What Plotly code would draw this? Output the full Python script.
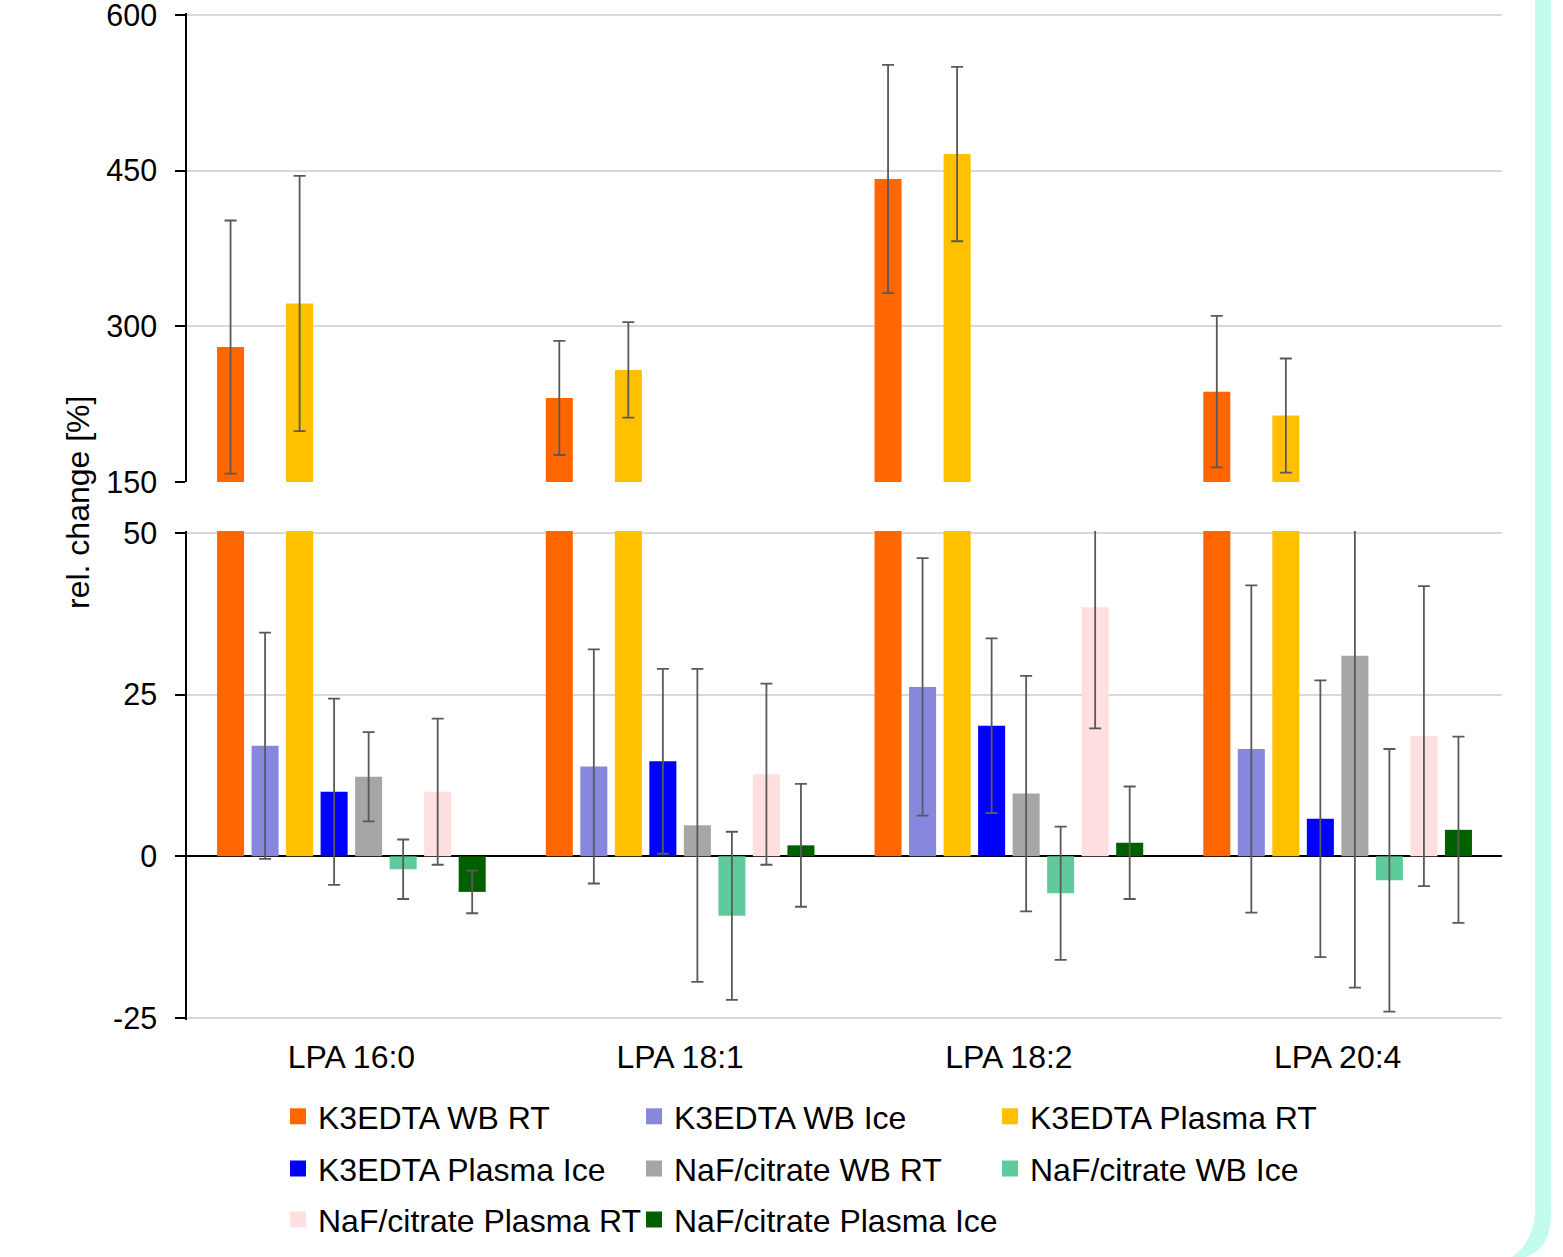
import plotly.graph_objects as go

# Lipid species on the category axis
categories = ["LPA 16:0", "LPA 18:1", "LPA 18:2", "LPA 20:4"]

# Storage conditions (series) and their mean relative change [%]
series_names = [
    "K3EDTA WB RT",
    "K3EDTA WB Ice",
    "K3EDTA Plasma RT",
    "K3EDTA Plasma Ice",
    "NaF/citrate WB RT",
    "NaF/citrate WB Ice",
    "NaF/citrate Plasma RT",
    "NaF/citrate Plasma Ice",
]

k3edta_wb_rt = [280, 231, 442, 237]
k3edta_wb_ice = [17.1, 13.9, 26.2, 16.6]
k3edta_plasma_rt = [322, 258, 466, 214]
k3edta_plasma_ice = [10.0, 14.7, 20.2, 5.8]
naf_wb_rt = [12.3, 4.8, 9.7, 31.0]
naf_wb_ice = [-2.0, -9.2, -5.7, -3.7]
naf_plasma_rt = [10.0, 12.7, 38.5, 18.6]
naf_plasma_ice = [-5.5, 1.7, 2.1, 4.1]

# Standard deviations (symmetric error bars)
k3edta_wb_rt_sd = [122, 55, 110, 73]
k3edta_wb_ice_sd = [17.5, 18.1, 19.9, 25.3]
k3edta_plasma_rt_sd = [123, 46, 84, 55]
k3edta_plasma_ice_sd = [14.4, 14.3, 13.5, 21.4]
naf_wb_rt_sd = [6.9, 24.2, 18.2, 51.3]
naf_wb_ice_sd = [4.6, 13.0, 10.3, 20.3]
naf_plasma_rt_sd = [11.3, 14.0, 18.7, 23.2]
naf_plasma_ice_sd = [3.3, 9.5, 8.7, 14.4]

# Axis ticks for the two halves of the broken axis
upper_ticks = [150, 300, 450, 600]
lower_ticks = [-25, 0, 25, 50]

values = [k3edta_wb_rt, k3edta_wb_ice, k3edta_plasma_rt, k3edta_plasma_ice,
          naf_wb_rt, naf_wb_ice, naf_plasma_rt, naf_plasma_ice]
errors = [k3edta_wb_rt_sd, k3edta_wb_ice_sd, k3edta_plasma_rt_sd, k3edta_plasma_ice_sd,
          naf_wb_rt_sd, naf_wb_ice_sd, naf_plasma_rt_sd, naf_plasma_ice_sd]
colors = ["#FF6600", "#8787DE", "#FFC000", "#0000FF",
          "#A6A6A6", "#5FCB9D", "#FFDFE0", "#006000"]
legend_rows = ["legend", "legend", "legend", "legend2",
               "legend2", "legend2", "legend3", "legend3"]

FONT = "Liberation Sans, Arial, sans-serif"
W, H = 1563, 1257
ML, MR, MT, MB = 187, 61, 10, 230
PW, PH = W - ML - MR, H - MT - MB


def px_x(x):
    return (x - ML) / PW


def px_y(y):
    return (H - MB - y) / PH


# pixel placement of the two panels (value -> pixel row)
UP_TOP_PX, UP_BOT_PX = 15, 482        # 600 .. 150
LO_TOP_PX, LO_BOT_PX = 533, 1018      # 50 .. -25
PAD = 2                               # keep end gridlines inside the plot area

up_scale = (UP_BOT_PX - UP_TOP_PX) / (600 - 150)
lo_scale = (LO_BOT_PX - LO_TOP_PX) / (50 - (-25))
up_range = [150, 600 + PAD / up_scale]
lo_range = [-25 - PAD / lo_scale, 50 + PAD / lo_scale]

fig = go.Figure()

for name, vals, errs, col in zip(series_names, values, errors, colors):
    err = dict(type="data", array=errs, visible=True, color="#595959",
               thickness=1.8, width=6)
    # lower half of the broken axis
    fig.add_trace(go.Bar(
        x=categories, y=vals, name=name, marker=dict(color=col, line=dict(width=0)),
        error_y=err, xaxis="x", yaxis="y", showlegend=False,
    ))
    # upper half of the broken axis
    fig.add_trace(go.Bar(
        x=categories, y=vals, name=name, marker=dict(color=col, line=dict(width=0)),
        error_y=err, xaxis="x", yaxis="y2", showlegend=False,
    ))

# legend keys: square swatches, laid out in three rows of a shared grid
for i, (name, col, lg) in enumerate(zip(series_names, colors, legend_rows)):
    fig.add_trace(go.Scatter(
        x=[None], y=[None], mode="markers", name=name,
        marker=dict(symbol="square", size=17, color=col, line=dict(width=0)),
        xaxis="x", yaxis="y", legend=lg, showlegend=True,
        legendwidth=311 if i < len(series_names) - 1 else 380,
        hoverinfo="skip",
    ))

axis_common = dict(
    showline=True, linecolor="black", linewidth=1.5,
    ticks="outside", ticklen=10, tickwidth=1.5, tickcolor="black",
    showgrid=True, gridcolor="#D9D9D9", gridwidth=1.5,
    tickfont=dict(family=FONT, size=30.5, color="black"),
    tickmode="array", ticklabelstandoff=12, ticklabeloverflow="allow",
)

legend_common = dict(
    orientation="h", xanchor="left", yanchor="middle",
    entrywidthmode="pixels", itemsizing="trace",
    font=dict(family=FONT, size=32, color="black"),
    bgcolor="rgba(0,0,0,0)", borderwidth=0,
    itemclick=False, itemdoubleclick=False,
)

fig.update_layout(
    width=W, height=H,
    margin=dict(l=ML, r=MR, t=MT, b=MB, autoexpand=False),
    paper_bgcolor="white", plot_bgcolor="white",
    barmode="group", bargap=0.16, bargroupgap=0.217,
    font=dict(family=FONT, color="black"),
    xaxis=dict(
        domain=[0, 1], anchor="y", showline=False, showgrid=False, ticks="",
        tickfont=dict(family=FONT, size=32, color="black"),
        ticklabelstandoff=15,
    ),
    yaxis=dict(
        domain=[px_y(LO_BOT_PX + PAD), px_y(LO_TOP_PX - PAD)], anchor="x",
        range=lo_range,
        tickvals=lower_ticks, ticktext=[str(v) for v in lower_ticks],
        zeroline=True, zerolinecolor="black", zerolinewidth=2,
        **axis_common,
    ),
    yaxis2=dict(
        domain=[px_y(UP_BOT_PX), px_y(UP_TOP_PX - PAD)], anchor="x",
        range=up_range,
        tickvals=upper_ticks, ticktext=[str(v) for v in upper_ticks],
        zeroline=False,
        **axis_common,
    ),
    legend=dict(x=px_x(278), y=px_y(1116.5), **legend_common),
    legend2=dict(x=px_x(278), y=px_y(1168.7), **legend_common),
    legend3=dict(x=px_x(278), y=px_y(1219.7), **legend_common),
    annotations=[dict(
        text="rel. change [%]", textangle=-90, showarrow=False,
        xref="paper", yref="paper", x=px_x(78), y=px_y(503),
        xanchor="center", yanchor="middle",
        font=dict(family=FONT, size=32, color="black"),
    )],
    shapes=[dict(
        # decorative mint frame edge on the right side of the page
        type="path", xref="paper", yref="paper", layer="above",
        path=(f"M{px_x(1535)},{px_y(0)} L{px_x(1551)},{px_y(0)} "
              f"L{px_x(1551)},{px_y(1212)} Q{px_x(1551)},{px_y(1250)} {px_x(1525)},{px_y(1257)} "
              f"L{px_x(1512)},{px_y(1257)} Q{px_x(1535)},{px_y(1240)} {px_x(1535)},{px_y(1212)} Z"),
        fillcolor="#C2FCEC", line=dict(width=0),
    )],
)

fig.write_html("out.html")
